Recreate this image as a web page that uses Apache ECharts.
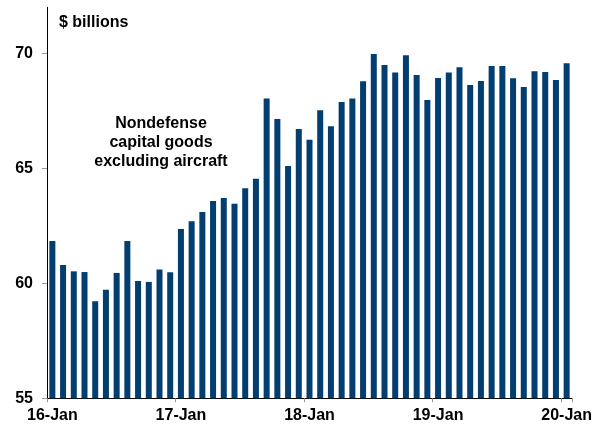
<!DOCTYPE html>
<html>
<head>
<meta charset="utf-8">
<script src="https://cdn.jsdelivr.net/npm/echarts@6/dist/echarts.min.js"></script>
<style>
html,body{margin:0;padding:0;background:#fff;}
#chart{width:596px;height:428px;}
</style>
</head>
<body>
<div id="chart"></div>
<script>
const categories = [
  "16-Jan","16-Feb","16-Mar","16-Apr","16-May","16-Jun","16-Jul","16-Aug","16-Sep","16-Oct","16-Nov","16-Dec",
  "17-Jan","17-Feb","17-Mar","17-Apr","17-May","17-Jun","17-Jul","17-Aug","17-Sep","17-Oct","17-Nov","17-Dec",
  "18-Jan","18-Feb","18-Mar","18-Apr","18-May","18-Jun","18-Jul","18-Aug","18-Sep","18-Oct","18-Nov","18-Dec",
  "19-Jan","19-Feb","19-Mar","19-Apr","19-May","19-Jun","19-Jul","19-Aug","19-Sep","19-Oct","19-Nov","19-Dec",
  "20-Jan"
];
const values = [
  61.84,60.80,60.52,60.49,59.22,59.72,60.45,61.84,60.10,60.06,60.60,60.48,
  62.36,62.70,63.10,63.58,63.71,63.46,64.13,64.55,68.03,67.14,65.10,66.71,
  66.24,67.52,66.83,67.88,68.03,68.78,69.97,69.49,69.17,69.91,69.06,67.97,
  68.93,69.16,69.39,68.62,68.80,69.45,69.45,68.91,68.53,69.22,69.19,68.84,
  69.57
];
const yTicks = [55, 60, 65, 70];
const unitLabel = "$ billions";
const annotation = "Nondefense\ncapital goods\nexcluding aircraft";

const FONT = "'Liberation Sans', Arial, sans-serif";
const chart = echarts.init(document.getElementById('chart'), null, {renderer: 'canvas'});
chart.setOption({
  animation: false,
  backgroundColor: '#ffffff',
  grid: {left: 47, right: 24, top: 7.3, bottom: 29.7, containLabel: false},
  xAxis: {
    type: 'category',
    data: categories,
    boundaryGap: true,
    axisLine: {show: true, lineStyle: {color: '#000', width: 1}},
    axisTick: {show: true, interval: 11, length: 4, lineStyle: {color: '#999'}},
    axisLabel: {interval: 11, margin: 9, color: '#000', fontSize: 16, fontWeight: 'bold', fontFamily: FONT},
    splitLine: {show: false}
  },
  yAxis: {
    type: 'value',
    min: 55, max: 72, interval: 5,
    axisLine: {show: true, lineStyle: {color: '#000', width: 1}},
    axisTick: {show: true, length: 5, customValues: yTicks, lineStyle: {color: '#999'}},
    axisLabel: {
      customValues: yTicks, margin: 14, color: '#000', fontSize: 16, fontWeight: 'bold', fontFamily: FONT,
      formatter: v => (yTicks.indexOf(v) >= 0 ? String(v) : '')
    },
    splitLine: {show: false}
  },
  series: [{
    type: 'bar',
    data: values,
    barWidth: '56%',
    itemStyle: {color: '#023e6f'}
  }],
  graphic: [
    {type: 'text', left: 59, top: 15, style: {text: unitLabel, fill: '#000', font: "bold 16px " + FONT}},
    {type: 'text', x: 161, y: 142.5, style: {text: annotation, fill: '#000', font: "bold 16px " + FONT, align: 'center', verticalAlign: 'middle', lineHeight: 19}}
  ]
});
</script>
</body>
</html>
